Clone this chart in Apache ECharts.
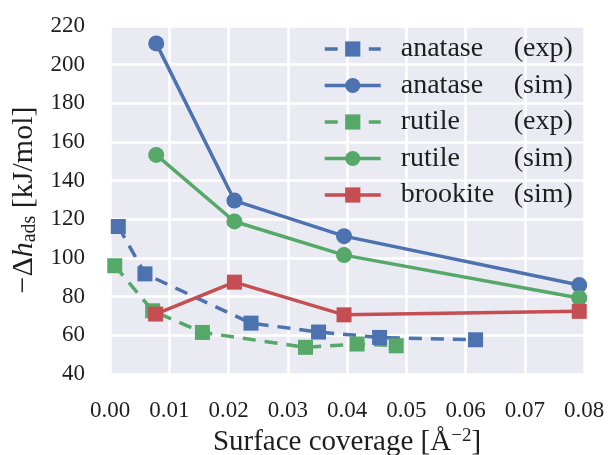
<!DOCTYPE html>
<html>
<head>
<meta charset="utf-8">
<script src="https://cdn.jsdelivr.net/npm/echarts@6/dist/echarts.min.js"></script>
<style>html,body{margin:0;padding:0;background:#fff}#c{width:612px;height:455px}</style>
</head>
<body>
<div id="c"></div>
<script>
// Data: [surface coverage (Å^-2), -Δh_ads (kJ/mol)]
const anataseExp = [[0.0014,116.3],[0.0059,91.8],[0.0238,66.3],[0.0352,61.7],[0.0455,58.9],[0.0617,57.7]];
const anataseSim = [[0.0078,211],[0.021,129.7],[0.0395,111.3],[0.0792,86]];
const rutileExp  = [[0.0008,96],[0.0072,72.7],[0.0156,61.5],[0.033,53.8],[0.0417,55.5],[0.0483,54.6]];
const rutileSim  = [[0.0078,153.3],[0.021,118.9],[0.0395,101.5],[0.0792,79.3]];
const brookiteSim= [[0.0077,71],[0.021,87.5],[0.0395,70.6],[0.0792,72.4]];
const seriesNames = ['anatase (exp)','anatase (sim)','rutile (exp)','rutile (sim)','brookite (sim)'];

const BLUE='#4C72B0', GREEN='#55A868', RED='#C44E52';
const FONT='"Liberation Serif", "Times New Roman", serif';
const TXT='#1e1e1e';

function mk(name, data, color, symbol, dashed){
  return {
    name, type:'line', data,
    symbol, symbolSize: symbol==='circle'?16:15,
    lineStyle:{color, width:3.5, type: dashed?[13,9]:'solid'},
    itemStyle:{color},
    showSymbol:true, animation:false
  };
}

const chart = echarts.init(document.getElementById('c'), null, {renderer:'canvas'});
chart.setOption({
  backgroundColor:'#ffffff',
  animation:false,
  grid:{left:110, right:28, top:26, bottom:81, show:true, backgroundColor:'#EAEAF2', borderWidth:0,
        containLabel:false, outerBoundsMode:'none'},
  legend:{
    orient:'vertical', left:323, top:35, padding:0,
    itemWidth:56, itemHeight:19, itemGap:8.5,
    data: seriesNames,
    lineStyle:{width:3.5},
    formatter: function(n){
      const p = n.split(' ');
      return '{a|'+p[0]+'}{b|'+p[1]+'}';
    },
    textStyle:{
      fontFamily:FONT, fontSize:28, color:TXT,
      rich:{
        a:{fontFamily:FONT, fontSize:28, color:TXT, width:113, padding:[0,0,0,15], lineHeight:30},
        b:{fontFamily:FONT, fontSize:28, color:TXT, lineHeight:30}
      }
    }
  },
  xAxis:{
    type:'value', min:0, max:0.08, interval:0.01,
    axisLine:{show:false}, axisTick:{show:false},
    splitLine:{show:true, lineStyle:{color:'#ffffff', width:2.5}},
    axisLabel:{margin:25, fontFamily:FONT, fontSize:23, color:TXT,
      formatter:v=>v.toFixed(2)},
    name:'{t|Surface coverage [Å}{s|−2}{t|]}',
    nameLocation:'middle', nameGap:38,
    nameTextStyle:{fontFamily:FONT, fontSize:29, color:TXT,
      rich:{
        t:{fontFamily:FONT, fontSize:29, color:TXT, lineHeight:30},
        s:{fontFamily:FONT, fontSize:19, color:TXT, lineHeight:16, verticalAlign:'top'}
      }}
  },
  yAxis:{
    type:'value', min:40, max:220, interval:20,
    axisLine:{show:false}, axisTick:{show:false},
    splitLine:{show:true, lineStyle:{color:'#ffffff', width:2.5}},
    axisLabel:{margin:25, fontFamily:FONT, fontSize:23, color:TXT},
    name:'{t|−Δ}{i|h}{s|ads}{t| [kJ/mol]}',
    nameLocation:'middle', nameGap:70,
    nameTextStyle:{fontFamily:FONT, fontSize:30, color:TXT,
      rich:{
        t:{fontFamily:FONT, fontSize:30, color:TXT, lineHeight:30},
        i:{fontFamily:FONT, fontSize:30, fontStyle:'italic', color:TXT, lineHeight:30},
        s:{fontFamily:FONT, fontSize:20, color:TXT, lineHeight:16, verticalAlign:'bottom'}
      }}
  },
  series:[
    mk(seriesNames[0], anataseExp, BLUE, 'rect', true),
    mk(seriesNames[1], anataseSim, BLUE, 'circle', false),
    mk(seriesNames[2], rutileExp, GREEN, 'rect', true),
    mk(seriesNames[3], rutileSim, GREEN, 'circle', false),
    mk(seriesNames[4], brookiteSim, RED, 'rect', false)
  ]
});
</script>
</body>
</html>
